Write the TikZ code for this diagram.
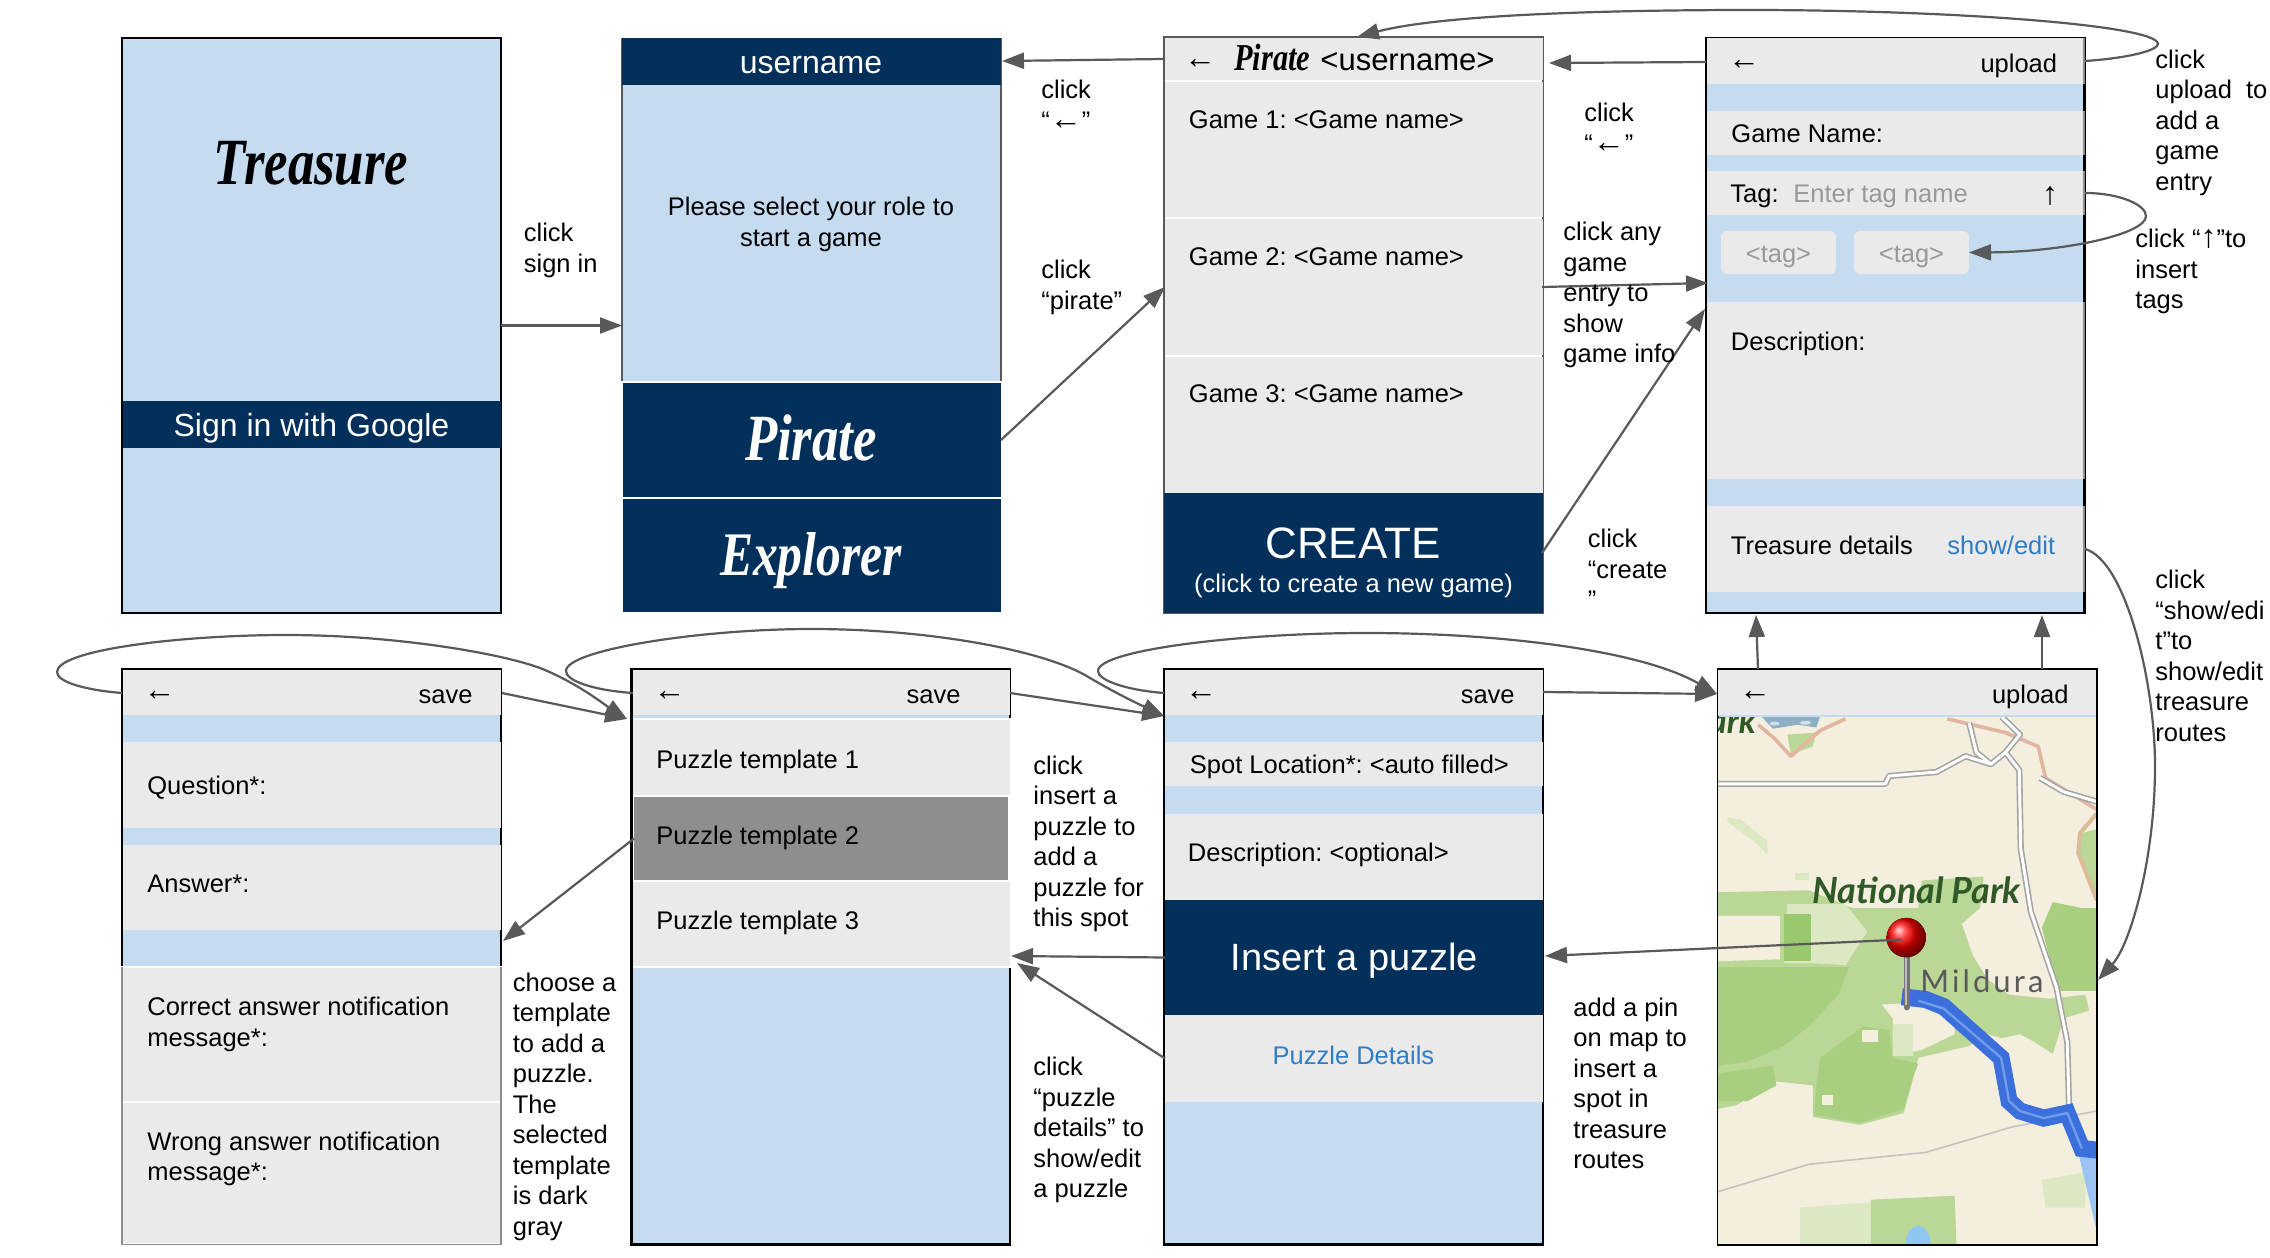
\documentclass[tikz,border=0pt]{standalone}
\usepackage{fontspec}
\setmainfont{Liberation Sans}
\newfontfamily\prettyfont[FakeStretch=0.8]{Liberation Serif}
\newfontfamily\mapfont{Lato}
\usetikzlibrary{arrows.meta}
\frenchspacing
\definecolor{lblue}{HTML}{C5DBF0}
\definecolor{lgrey}{HTML}{EAEAEA}
\definecolor{navy}{HTML}{03305A}
\definecolor{dgrey}{HTML}{8E8E8E}
\definecolor{connc}{HTML}{595959}
\definecolor{linkblue}{HTML}{2E7DC6}
\definecolor{hint}{HTML}{999999}
\definecolor{mapbg}{HTML}{F4EEDF}
\definecolor{mapg}{HTML}{BAD795}
\definecolor{mapd}{HTML}{A8CE80}
\definecolor{mapp}{HTML}{DCE8C2}
\definecolor{mapr}{HTML}{98C96E}
\definecolor{roadg}{HTML}{A4A4A2}
\definecolor{rout}{HTML}{3A6FDC}
\definecolor{routl}{HTML}{9CC4F2}
\definecolor{routc}{HTML}{6F9DEB}
\definecolor{lake}{HTML}{8FC7F0}
\definecolor{lakeg}{HTML}{8FB0C4}
\definecolor{bound}{HTML}{E2B5A0}
\definecolor{mapt}{HTML}{2F5A28}
\newcommand\bigarrow[1]{{\fontsize{16}{15.25}\selectfont #1}}
\tikzset{
  bandst/.style={inner sep=0pt,outer sep=0pt,draw=none,anchor=center},
  framest/.style={draw=black,line width=1.25pt,fill=lblue},
  thinframe/.style={draw=connc,line width=.7pt},
  tx/.style={inner sep=0pt,anchor=base west,text=black,font=\fontsize{12.75}{15.25}\selectfont},
  txr/.style={tx,anchor=base east},
  txc/.style={tx,anchor=base},
  lab/.style={inner sep=0pt,anchor=north west,align=left,font=\fontsize{12.75}{15.25}\selectfont},
  arw/.style={inner sep=0pt,anchor=center,font=\fontsize{16}{16}\selectfont},
  connector/.style={draw=connc,line width=1.1pt,-{Triangle[length=11pt,width=8pt]}}
}
\newcommand\band[6]{\node[bandst,fill=#6,minimum width={(#4-#2)*0.5pt},minimum height={(#5-#3)*0.5pt}] (#1) at ({(#2+#4)/2},{(#3+#5)/2}) {};}
\newcommand\frm[6][framest]{\node[bandst,#1,minimum width={(#4-#2)*0.5pt},minimum height={(#5-#3)*0.5pt}] (#6) at ({(#2+#4)/2},{(#3+#5)/2}) {};}
\begin{document}
\begin{tikzpicture}[x=0.5pt,y=-0.5pt]
\useasboundingbox (0,0) rectangle (2270,1258);
\fill[white] (0,0) rectangle (2270,1258);

% Screen 1
\frm{122}{38}{501}{613}{s1}
\band{s1bar}{123}{401}{501}{448}{navy}
\node[txc,text=black,font=\fontsize{33}{33}\selectfont\prettyfont\bfseries\itshape] (s1title) at (311,184) {Treasure};
\node[txc,text=white,font=\fontsize{16}{16}\selectfont] (s1sign) at (311.5,436) {Sign in with Google};

% Screen 2
\frm[fill=lblue]{622}{38}{1001}{381}{s2}
\draw[thinframe] (s2.north west) -- (s2.south west) (s2.north east) -- (s2.south east);
\band{s2head}{622}{38}{1001}{85}{navy}
\band{s2pirate}{623}{383}{1001}{497}{navy}
\band{s2explorer}{623}{499}{1001}{612}{navy}
\node[txc,text=white,font=\fontsize{16}{16}\selectfont] (s2user) at (811,73) {username};
\node[txc] (s2p1) at (811,215) {Please select your role to};
\node[txc] (s2p2) at (811,246) {start a game};
\node[txc,text=white,font=\fontsize{33}{33}\selectfont\prettyfont\bfseries\itshape] (s2pt) at (811,460) {Pirate};
\node[txc,text=white,font=\fontsize{31}{31}\selectfont\prettyfont\bfseries\itshape] (s2et) at (811,575) {Explorer};

% Screen 3
\frm[thinframe,fill=white]{1164}{37}{1543}{613}{s3}
\band{s3head}{1165}{38}{1543}{80}{lgrey}
\band{s3g1}{1165}{82}{1543}{217}{lgrey}
\band{s3g2}{1165}{219}{1543}{355}{lgrey}
\band{s3g3}{1165}{357}{1543}{493}{lgrey}
\band{s3create}{1164}{493}{1543}{613}{navy}
\node[arw] (s3back) at (1200,64) {←};
\node[tx,font=\fontsize{19}{19}\selectfont\prettyfont\bfseries\itshape] (s3pir) at (1234,70.5) {Pirate};
\node[tx,font=\fontsize{15.5}{15.5}\selectfont] (s3user) at (1320,70.5) {<username>};
\node[tx] (s3t1) at (1188.5,128.5) {Game 1: <Game name>};
\node[tx] (s3t2) at (1188.5,265) {Game 2: <Game name>};
\node[tx] (s3t3) at (1188.5,402) {Game 3: <Game name>};
\node[txc,text=white,font=\fontsize{22}{22}\selectfont] (s3ct) at (1353,558) {CREATE};
\node[txc,text=white] (s3cs) at (1353.5,592.5) {(click to create a new game)};

% Screen 4
\frm{1706}{38}{2084.5}{613}{s4}
\band{s4head}{1707}{38}{2084}{84}{lgrey}
\band{s4name}{1707}{111}{2084}{155}{lgrey}
\band{s4tag}{1707}{171}{2084}{215}{lgrey}
\band{s4desc}{1707}{302}{2084}{479}{lgrey}
\band{s4det}{1707}{506}{2084}{592}{lgrey}
\draw[thinframe,draw=dgrey] (s4head.north east) -- (s4head.south east) (s4name.north east) -- (s4name.south east) (s4tag.north east) -- (s4tag.south east) (s4desc.north east) -- (s4desc.south east) (s4det.north east) -- (s4det.south east);
\node[bandst,fill=lgrey,rounded corners=3pt,minimum width=57.5pt,minimum height=21.5pt] (s4tg1) at (1778.5,252.5) {};
\node[bandst,fill=lgrey,rounded corners=3pt,minimum width=57.5pt,minimum height=21.5pt] (s4tg2) at (1911.5,252.5) {};
\node[arw] (s4back) at (1744,64.5) {←};
\node[txr] (s4up) at (2057.5,72) {upload};
\node[tx] (s4t1) at (1731,142) {Game Name:};
\node[tx] (s4t2) at (1730,202.5) {Tag:};
\node[tx,text=hint] (s4t3) at (1793,202.5) {Enter tag name};
\node[arw] (s4upa) at (2050,196) {↑};
\node[txc,text=hint] (s4c1) at (1778.5,262) {<tag>};
\node[txc,text=hint] (s4c2) at (1911.5,262) {<tag>};
\node[tx] (s4t4) at (1730.5,350) {Description:};
\node[tx] (s4t5) at (1730.5,554) {Treasure details};
\node[tx,text=linkblue] (s4t6) at (1947,554) {show/edit};

% Screen 5
\frm{122}{669}{501}{1244.5}{s5}
\band{s5head}{123}{670}{501}{715}{lgrey}
\band{s5q}{123}{742}{501}{828}{lgrey}
\band{s5a}{123}{845}{501}{930}{lgrey}
\fill[white] (121,966) rectangle (502,1245.5);
\band{s5c}{123}{968}{500}{1101}{lgrey}
\band{s5w}{123}{1103}{500}{1243}{lgrey}
\draw[thinframe,line width=.8pt,draw=dgrey] (122,967) -- (122,1244.5) -- (501,1244.5) -- (501,967);
\node[arw] (s5back) at (159.5,695.5) {←};
\node[txr] (s5save) at (473,703) {save};
\node[tx] (s5t1) at (147,794) {Question*:};
\node[tx] (s5t2) at (147,892) {Answer*:};
\node[lab] (s5t3) at (147,997) {Correct answer notification\\message*:};
\node[lab] (s5t4) at (147,1131.5) {Wrong answer notification\\message*:};

% Screen 6
\frm{631.5}{669}{1010}{1244.5}{s6}
\band{s6head}{632.5}{670}{1010}{715}{lgrey}
\fill[white] (632.5,718) rectangle (1011,968);
\band{s6p1}{632.5}{720}{1010}{795}{lgrey}
\band{s6p2}{634}{797}{1008}{880}{dgrey}
\band{s6p3}{632.5}{882}{1010}{966}{lgrey}
\node[arw] (s6back) at (669.5,695.5) {←};
\node[txr] (s6save) at (961,703) {save};
\node[tx] (s6t1) at (656,768) {Puzzle template 1};
\node[tx] (s6t2) at (656,844.5) {Puzzle template 2};
\node[tx] (s6t3) at (656,929.5) {Puzzle template 3};

% Screen 7
\frm{1164}{669}{1543}{1244.5}{s7}
\band{s7head}{1165}{670}{1543}{715}{lgrey}
\band{s7spot}{1165}{742}{1543}{786}{lgrey}
\band{s7desc}{1165}{814}{1543}{900}{lgrey}
\band{s7ins}{1165}{900}{1543}{1015}{navy}
\band{s7det}{1165}{1015}{1543}{1102}{lgrey}
\node[arw] (s7back) at (1201,695.5) {←};
\node[txr] (s7save) at (1515,703) {save};
\node[tx] (s7t1) at (1189.5,773.5) {Spot Location*: <auto filled>};
\node[tx] (s7t2) at (1187.5,861) {Description: <optional>};
\node[txc,text=white,font=\fontsize{19}{19}\selectfont] (s7t3) at (1354.5,970) {Insert a puzzle};
\node[txc,text=linkblue] (s7t4) at (1353.5,1064) {Puzzle Details};

% Screen 8 with map
\frm[thinframe,draw=black,fill=mapbg]{1717.5}{669}{2097}{1245}{s8}
\begin{scope}[shift={(1700,640)},x=0.18182pt,y=-0.19708pt]
\clip (48,190) rectangle (1091,1535);
\fill[mapbg] (48,190) rectangle (1091,1535);
% green zones
\fill[mapg] (48,640) -- (300,635) -- (420,680) -- (600,680) -- (610,610) -- (780,600) -- (770,680) -- (720,720) -- (750,800) -- (790,860) -- (850,900) -- (960,910) -- (1060,900) -- (1070,940) -- (1000,960) -- (970,1050) -- (920,1020) -- (880,1000) -- (830,1010) -- (790,1000) -- (740,1030) -- (600,1060) -- (590,1100) -- (560,1200) -- (440,1230) -- (310,1210) -- (310,1130) -- (210,1120) -- (100,1180) -- (48,1190) -- cycle;
\fill[mapd] (48,830) -- (410,830) -- (380,900) -- (300,980) -- (230,1030) -- (130,1070) -- (48,1080) -- cycle;
\fill[mapd] (48,1100) -- (200,1080) -- (210,1130) -- (130,1170) -- (48,1170) -- cycle;
\fill[mapd] (330,1060) -- (450,980) -- (520,990) -- (530,1060) -- (600,1075) -- (585,1110) -- (560,1190) -- (440,1225) -- (315,1205) -- (320,1130) -- cycle;
\fill[mapd] (940,730) -- (970,665) -- (1050,680) -- (1091,680) -- (1091,890) -- (985,890) -- cycle;
\fill[mapbg] (48,700) -- (220,700) -- (220,810) -- (48,815) -- cycle;
\fill[mapp] (240,670) -- (400,670) -- (460,740) -- (400,825) -- (310,820) -- (232,820) -- cycle;
\fill[mapbg] (500,925) -- (590,920) -- (700,970) -- (700,1000) -- (610,1040) -- (530,1055) -- (530,960) -- cycle;
\fill[mapp] (530,975) -- (585,975) -- (585,1055) -- (530,1055) -- cycle;
\fill[mapbg] (445,990) rectangle (490,1020);
\fill[mapbg] (335,1155) rectangle (365,1180);
\fill[mapr] (232,695) rectangle (305,815);
\fill[mapp] (275,1440) -- (700,1410) -- (705,1535) -- (275,1535) -- cycle;
\fill[mapg] (470,1420) -- (700,1410) -- (705,1535) -- (470,1535) -- cycle;
\fill[mapp] (940,1370) -- (1060,1350) -- (1060,1440) -- (950,1440) -- cycle;
\fill[mapg] (1091,480) -- (1050,490) -- (1040,540) -- (1070,620) -- (1091,650) -- cycle;
\fill[mapg] (240,240) -- (320,235) -- (310,270) -- (250,290) -- cycle;
\fill[mapp] (260,590) rectangle (300,610);
\fill[mapp] (75,450) -- (110,455) -- (185,510) -- (185,545) -- (160,520) -- (75,460) -- cycle;
% lakes
\fill[lakeg] (170,195) -- (330,195) -- (320,222) -- (270,215) -- (200,225) -- cycle;
\fill[white!60!lakeg] (205,212) ellipse (14 and 5) (290,210) ellipse (16 and 5);
\fill[lake] (600,1530) ellipse (34 and 44);
% boundary lines
\draw[draw=bound,line width=1.8pt,line join=round] (160,215) -- (205,250) -- (250,295) -- (330,230) -- (400,200);
\draw[draw=bound,line width=1.8pt,line join=round] (680,200) -- (840,235) -- (930,270) -- (950,350) -- (1091,430);
\draw[draw=brown!45!mapbg,line width=2pt] (1091,440) -- (1045,490) -- (1040,540) -- (1091,660);
% roads
\foreach \col/\w in {roadg/3.1pt,white/1.5pt}{
 \draw[draw=\col,line width=\w,line join=round] (48,365) -- (510,365) -- (520,345) -- (650,335) -- (730,295) -- (800,315) -- (840,285) -- (878,330) -- (882,530) -- (910,690) -- (980,880) -- (1010,1020) -- (1015,1190);
 \draw[draw=\col,line width=\w,line join=round] (740,210) -- (760,285) -- (800,315);
 \draw[draw=\col,line width=\w,line join=round] (830,195) -- (880,240) -- (840,285);
 \draw[draw=\col,line width=\w,line join=round] (935,350) -- (1000,385) -- (1091,410);
}
\draw[roadg!60!mapbg,line width=.8pt] (48,1400) -- (300,1330) -- (620,1300) -- (860,1235) -- (1091,1195);
% route
\fill[routl] (1040,1300) -- (1091,1300) -- (1091,1500) -- cycle;
\draw[draw=rout,line width=8.5pt,line join=miter] (555,905) -- (620,912) -- (670,930) -- (828,1060) -- (850,1170) -- (880,1195) -- (945,1213) -- (1010,1200) -- (1050,1290) -- (1100,1295);
\draw[draw=routc,line width=1.2pt] (600,915) -- (670,935) -- (828,1060) -- (850,1170) -- (880,1195) -- (945,1213) -- (1010,1200) -- (1050,1290);
% map labels
\node[tx,text=mapt,font=\fontsize{18}{18}\selectfont\mapfont\bfseries\itshape] (mapnp) at (308,668) {National Park};
\node[tx,text=black!65,font=\fontsize{15.5}{15.5}\selectfont\mapfont\addfontfeatures{LetterSpace=10}] (mapmi) at (605,895) {Mildura};
\node[tx,anchor=base east,text=mapt,font=\fontsize{17}{17}\selectfont\mapfont\bfseries\itshape] (mapark) at (155,237) {ark};
% pin
\draw[draw=black!55,line width=3pt,line cap=round] (568,800) -- (568,932);
\draw[draw=white!75!black,line width=1pt] (566,805) -- (566,925);
\fill[ball color=red] (567,755) ellipse (54 and 50);
\coordinate (pin) at (555,760);
\end{scope}
\band{s8head}{1718.5}{670}{2096.5}{715}{lgrey}
\band{s8thin}{1718.5}{715}{2096.5}{717}{lblue}
\draw[draw=black,line width=.9pt] (s8.north west) rectangle (s8.south east);
\node[arw] (s8back) at (1755,695.5) {←};
\node[txr] (s8up) at (2069,703) {upload};

% Connector end points
\coordinate (a4back) at (1706,62);
\coordinate (a3right) at (1549,63);
\coordinate (a2head) at (1002,61);
\coordinate (a3head) at (1164,59);
\coordinate (a4in) at (1708,283);
\coordinate (a4in2) at (1705,309);
\coordinate (a3g) at (1542,287);
\coordinate (a3c) at (1542,553);
\coordinate (a3top) at (1357,37);
\coordinate (a4up) at (2085,61);
\coordinate (a4tag) at (2085,193);
\coordinate (a4det) at (2085,549);
\coordinate (a8side) at (2098,980);
\coordinate (a8a) at (1758,669);
\coordinate (a8b) at (2042,669);
\coordinate (a4a) at (1756,615);
\coordinate (a4b) at (2042,615);
\coordinate (a7back) at (1164,693);
\coordinate (a7save) at (1543,692);
\coordinate (a8in) at (1717,694);
\coordinate (a7in) at (1164,716);
\coordinate (a6save) at (1010,693);
\coordinate (a6back) at (633,693);
\coordinate (a6in) at (627,719);
\coordinate (a5save) at (502,693);
\coordinate (a5back) at (122,693);
\coordinate (a5in) at (503,941);
\coordinate (a6side) at (1011,956);
\coordinate (a6side2) at (1017,963);
\coordinate (a7pin) at (1545,956);

% Connectors
\draw[connector] (s1.east) -- (s1.east -| s2.west);
\draw[connector] (s2pirate.east) -- (s3g2.west);
\draw[connector] (a3head) -- (a2head);
\draw[connector] (a4back) -- (a3right);
\draw[connector] (a3g) -- (a4in);
\draw[connector] (a3c) -- (a4in2);
\draw[connector] (a4up) .. controls (2130,58) and (2158,50) .. (2158,44) .. controls (2158,25) and (1950,10) .. (1750,10) .. controls (1600,10) and (1440,15) .. (a3top);
\draw[connector] (a4tag) .. controls (2120,193) and (2146,205) .. (2146,216) .. controls (2146,235) and (2060,252) .. (s4tg2.east);
\draw[connector] (a4det) .. controls (2125,560) and (2155,680) .. (2155,766) .. controls (2155,860) and (2130,945) .. (a8side);
\draw[connector] (a8a) -- (a4a);
\draw[connector] (a8b) -- (a4b);
\draw[connector] (pin) -- (a7pin);
\draw[connector] (s7ins.west) -- (a6side);
\draw[connector] (s7det.west) -- (a6side2);
\draw[connector] (a7save) -- (a8in);
\draw[connector] (a7back) .. controls (1125,690) and (1098,680) .. (1098,671) .. controls (1098,650) and (1240,633) .. (1366,633) .. controls (1500,633) and (1640,650) .. (a8in);
\draw[connector] (a6save) -- (a7in);
\draw[connector] (a6back) .. controls (590,690) and (566,680) .. (566,671) .. controls (566,650) and (700,629) .. (811,629) .. controls (930,629) and (1040,650) .. (1085,675) .. controls (1110,690) and (1130,700) .. (a7in);
\draw[connector] (a5save) -- (a6in);
\draw[connector] (a5back) .. controls (85,690) and (57,682) .. (57,672) .. controls (57,650) and (180,635) .. (286,635) .. controls (400,635) and (510,655) .. (545,670) .. controls (580,685) and (605,705) .. (a6in);
\draw[connector] (s6p2.west) -- (a5in);

% Labels
\node[lab] (l1) at (523.5,223) {click\\sign in};
\node[lab] (l2) at (1041,80) {click\\“\bigarrow{←}”};
\node[lab] (l3) at (1041,260) {click\\“pirate”};
\node[lab] (l4) at (1584,103) {click\\“\bigarrow{←}”};
\node[lab] (l5) at (1563,222) {click any\\game\\entry to\\show\\game info};
\node[lab] (l6) at (1587.5,529) {click\\“create\\”};
\node[lab] (l7) at (2155,49.5) {click\\upload\ \ to\\add a\\game\\entry};
\node[lab] (l8) at (2135,229) {click “\bigarrow{↑}”to\\insert\\tags};
\node[lab] (l9) at (2155,570) {click\\“show/edi\\t”to\\show/edit\\treasure\\routes};
\node[lab] (l10) at (1033,755.5) {click\\insert a\\puzzle to\\add a\\puzzle for\\this spot};
\node[lab] (l11) at (1033,1057) {click\\“puzzle\\details” to\\show/edit\\a puzzle};
\node[lab] (l12) at (1573,997.5) {add a pin\\on map to\\insert a\\spot in\\treasure\\routes};
\node[lab] (l13) at (512.5,972.5) {choose a\\template\\to add a\\puzzle.\\The\\selected\\template\\is dark\\gray};
\end{tikzpicture}
\end{document}
